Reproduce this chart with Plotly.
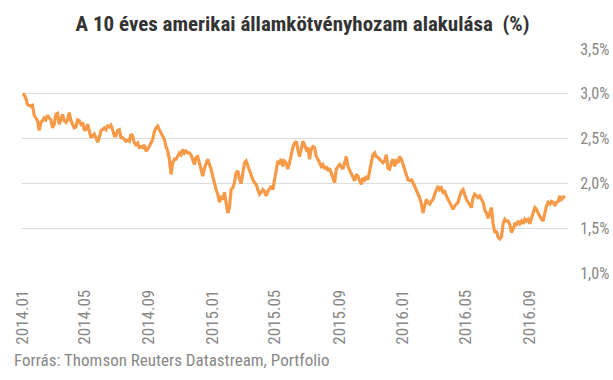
import pandas as pd
import plotly.graph_objects as go

# 10-year US Treasury yield (%), evenly spaced samples
yield_pct = [
    3.00, 2.99, 2.95, 2.88, 2.87, 2.86, 2.87, 2.76, 2.73, 2.70,
    2.59, 2.68, 2.70, 2.73, 2.71, 2.76, 2.73, 2.71, 2.62, 2.66,
    2.77, 2.78, 2.66, 2.71, 2.77, 2.70, 2.68, 2.71, 2.79, 2.70,
    2.66, 2.62, 2.63, 2.71, 2.70, 2.66, 2.68, 2.60, 2.60, 2.66,
    2.59, 2.51, 2.53, 2.55, 2.51, 2.46, 2.51, 2.59, 2.60, 2.62,
    2.60, 2.64, 2.63, 2.65, 2.60, 2.53, 2.53, 2.59, 2.60, 2.51,
    2.51, 2.49, 2.47, 2.48, 2.47, 2.55, 2.53, 2.45, 2.43, 2.45,
    2.40, 2.41, 2.40, 2.43, 2.36, 2.38, 2.41, 2.45, 2.49, 2.58,
    2.62, 2.64, 2.60, 2.56, 2.54, 2.49, 2.41, 2.36, 2.27, 2.10,
    2.23, 2.27, 2.27, 2.30, 2.34, 2.32, 2.38, 2.34, 2.36, 2.34,
    2.34, 2.32, 2.27, 2.21, 2.29, 2.30, 2.23, 2.17, 2.08, 2.17,
    2.23, 2.27, 2.21, 2.16, 2.08, 1.99, 1.93, 1.88, 1.79, 1.86,
    1.82, 1.90, 1.79, 1.67, 1.73, 1.93, 1.95, 2.01, 2.12, 2.14,
    2.05, 2.00, 2.11, 2.23, 2.25, 2.19, 2.14, 2.08, 2.04, 2.01,
    1.99, 1.93, 1.88, 1.90, 1.93, 1.91, 1.86, 1.91, 1.95, 1.97,
    1.93, 2.04, 2.16, 2.25, 2.23, 2.27, 2.19, 2.25, 2.23, 2.16,
    2.23, 2.34, 2.40, 2.45, 2.47, 2.38, 2.30, 2.38, 2.47, 2.43,
    2.38, 2.40, 2.27, 2.38, 2.41, 2.40, 2.30, 2.27, 2.23, 2.19,
    2.21, 2.16, 2.19, 2.14, 2.17, 2.12, 2.08, 2.01, 2.16, 2.19,
    2.21, 2.19, 2.16, 2.23, 2.30, 2.19, 2.15, 2.12, 2.06, 2.03,
    2.10, 2.08, 2.03, 1.99, 2.06, 2.04, 2.08, 2.04, 2.14, 2.23,
    2.32, 2.34, 2.30, 2.29, 2.27, 2.25, 2.23, 2.25, 2.32, 2.17,
    2.16, 2.23, 2.27, 2.19, 2.25, 2.23, 2.30, 2.27, 2.21, 2.14,
    2.08, 2.04, 2.03, 2.04, 2.01, 1.97, 1.93, 1.90, 1.84, 1.77,
    1.67, 1.75, 1.82, 1.79, 1.77, 1.80, 1.82, 1.88, 1.93, 1.97,
    1.93, 1.95, 1.90, 1.91, 1.86, 1.82, 1.79, 1.75, 1.71, 1.75,
    1.77, 1.79, 1.86, 1.91, 1.93, 1.86, 1.82, 1.79, 1.75, 1.73,
    1.84, 1.88, 1.86, 1.84, 1.86, 1.82, 1.79, 1.70, 1.67, 1.61,
    1.66, 1.73, 1.55, 1.45, 1.47, 1.40, 1.38, 1.40, 1.55, 1.60,
    1.58, 1.58, 1.54, 1.45, 1.49, 1.55, 1.54, 1.58, 1.55, 1.58,
    1.55, 1.60, 1.58, 1.60, 1.55, 1.60, 1.67, 1.73, 1.71, 1.67,
    1.63, 1.60, 1.58, 1.66, 1.75, 1.79, 1.77, 1.80, 1.79, 1.75,
    1.79, 1.80, 1.86, 1.82, 1.84, 1.86,
]
first_date = "2014-01-02"
last_date = "2016-11-07"
dates = pd.date_range(first_date, last_date, periods=len(yield_pct))

tick_dates = ["2014-01-01", "2014-05-01", "2014-09-01", "2015-01-01", "2015-05-01",
              "2015-09-01", "2016-01-01", "2016-05-01", "2016-09-01"]
tick_labels = ["2014.01", "2014.05", "2014.09", "2015.01", "2015.05",
               "2015.09", "2016.01", "2016.05", "2016.09"]
y_ticks = [1.0, 1.5, 2.0, 2.5, 3.0, 3.5]
y_labels = ["1,0%", "1,5%", "2,0%", "2,5%", "3,0%", "3,5%"]

title = "A 10 éves amerikai államkötvényhozam alakulása  (%)"
source = "Forrás: Thomson Reuters Datastream, Portfolio"

FONT = "Liberation Sans Narrow, Roboto Condensed, Roboto, sans-serif"

fig = go.Figure(go.Scatter(
    x=dates, y=yield_pct, mode="lines",
    line=dict(color="#F79A48", width=3.2),
    hoverinfo="x+y",
))

fig.update_layout(
    width=613, height=380,
    margin=dict(l=22, r=45, t=49, b=107, autoexpand=False),
    paper_bgcolor="white", plot_bgcolor="white",
    showlegend=False,
    font=dict(family=FONT, color="#888888", size=16),
    title=dict(text="<b>" + title + "</b>", x=0.4935, xanchor="center",
               y=0.937, yanchor="middle",
               font=dict(family=FONT, size=21, color="#333333")),
    xaxis=dict(
        type="date", range=["2014-01-01", "2016-11-13"],
        tickmode="array", tickvals=tick_dates, ticktext=tick_labels,
        tickangle=-90, showgrid=False, zeroline=False, showline=False,
        ticks="outside", ticklen=9, tickcolor="rgba(0,0,0,0)",
        tickfont=dict(size=17, color="#888888"), automargin=False,
    ),
    yaxis=dict(
        side="right", range=[1.0, 3.5],
        tickmode="array", tickvals=y_ticks, ticktext=y_labels,
        showgrid=True, gridcolor="#dcdcdc", gridwidth=1,
        zeroline=False, showline=False,
        ticks="outside", ticklen=8, tickcolor="rgba(0,0,0,0)",
        tickfont=dict(size=16, color="#888888"), automargin=False,
    ),
    annotations=[dict(
        text=source, xref="paper", yref="paper",
        x=-10 / 546, y=-87 / 224, xanchor="left", yanchor="middle",
        showarrow=False, font=dict(family=FONT, size=17, color="#888888"),
    )],
)

fig.write_html(
    "out.html",
    config={"displayModeBar": False},
    post_script="document.body.style.margin='0';"
                "document.documentElement.style.overflow='hidden';",
)
